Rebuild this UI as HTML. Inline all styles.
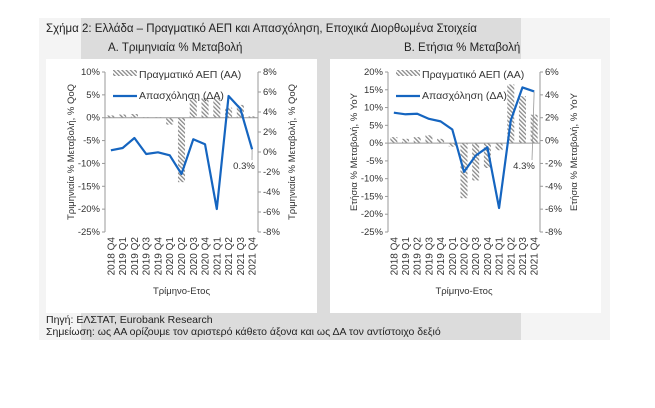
<!DOCTYPE html>
<html><head><meta charset="utf-8"><style>
body{margin:0;width:655px;height:408px;background:#fff;overflow:hidden;font-family:"Liberation Sans",sans-serif}
svg{position:absolute;left:0;top:0}
</style></head><body>
<svg id="s" width="655" height="408">
<defs><pattern id="h" width="3" height="3" patternUnits="userSpaceOnUse" patternTransform="rotate(-45)"><rect width="3" height="3" fill="#fff"/><rect width="1.3" height="3" fill="#888"/></pattern></defs>
<rect x="39" y="18" width="571" height="322" fill="#f4f4f4"/>
<rect x="81" y="18" width="440" height="322" fill="#dcdcdc"/>
<rect x="46" y="59" width="271" height="254" fill="#fff"/>
<rect x="330" y="59" width="271" height="254" fill="#fff"/>
<text x="46" y="32" font-size="11.5" fill="#222">Σχήμα 2: Ελλάδα – Πραγματικό ΑΕΠ και Απασχόληση, Εποχικά Διορθωμένα Στοιχεία</text>
<text x="108" y="51" font-size="11.5" fill="#222">Α. Τριμηνιαία % Μεταβολή</text>
<text x="404" y="51" font-size="11.5" fill="#222">Β. Ετήσια % Μεταβολή</text>
<text x="46" y="323" font-size="10.5" fill="#222">Πηγή: ΕΛΣΤΑΤ, Eurobank Research</text>
<text x="46" y="335" font-size="10.5" fill="#222">Σημείωση: ως ΑΑ ορίζουμε τον αριστερό κάθετο άξονα και ως ΔΑ τον αντίστοιχο δεξιό</text>
</svg>
<script>
const categories=["2018 Q4","2019 Q1","2019 Q2","2019 Q3","2019 Q4","2020 Q1","2020 Q2","2020 Q3","2020 Q4","2021 Q1","2021 Q2","2021 Q3","2021 Q4"];
const gdpQoQ=[0.5,0.7,0.8,0.1,0.1,-1.5,-14.1,4.3,4.3,4.3,2.2,2.8,0.3];
const empQoQ=[0.17,0.4,1.4,-0.2,-0.03,-0.33,-2.2,1.27,0.77,-5.7,5.6,4.33,0.27];
const gdpYoY=[1.7,1.2,1.7,2.2,1.2,-1,-15.5,-10.5,-7,-2,16.5,13.2,8];
const empYoY=[2.44,2.3,2.35,1.9,1.68,0.97,-2.74,-1.32,-0.59,-5.9,1.76,4.65,4.3];
const leftTicksA=[10,5,0,-5,-10,-15,-20,-25];
const rightTicksA=[8,6,4,2,0,-2,-4,-6,-8];
const leftTicksB=[20,15,10,5,0,-5,-10,-15,-20,-25];
const rightTicksB=[6,4,2,0,-2,-4,-6,-8];
const NS="http://www.w3.org/2000/svg",svg=document.getElementById('s');
function el(t,a,txt){const e=document.createElementNS(NS,t);for(const k in a)e.setAttribute(k,a[k]);if(txt!=null)e.textContent=txt;svg.appendChild(e);return e;}
function chart(o){
 const x0=o.x0,x1=o.x1,yt=72,yb=232,n=categories.length,bw=(x1-x0)/n;
 const yL=v=>yt+(o.lmax-v)/(o.lmax-o.lmin)*(yb-yt);
 const yR=v=>yt+(o.rmax-v)/(o.rmax-o.rmin)*(yb-yt);
 const xc=i=>x0+bw*(i+0.5);
 let e=el('line',{x1:x0,y1:yt,x2:x0,y2:yb,stroke:'#999'});
 
 e=el('line',{x1:x1,y1:yt,x2:x1,y2:yb,stroke:'#999'});
 
 o.lt.forEach(v=>{el('line',{x1:x0-3,x2:x0,y1:yL(v),y2:yL(v),stroke:'#999'});
  e=el('text',{x:x0-5,y:yL(v)+3,'font-size':9.5,'text-anchor':'end',fill:'#333'},v+'%');
  });
 o.rt.forEach(v=>{el('line',{x1:x1,x2:x1+3,y1:yR(v),y2:yR(v),stroke:'#999'});
  e=el('text',{x:x1+5,y:yR(v)+3,'font-size':9.5,fill:'#333'},v+'%');
  });
 o.gdp.forEach((v,i)=>{const a=yL(Math.max(v,0)),b=yL(Math.min(v,0));
  e=el('rect',{x:xc(i)-bw*0.3,y:a,width:bw*0.6,height:Math.max(b-a,0.5),fill:'url(#h)'});
  });
 e=el('line',{x1:x0,x2:x1,y1:yL(0),y2:yL(0),stroke:'#999'});
 
 e=el('polyline',{points:o.emp.map((v,i)=>xc(i)+','+yR(v)).join(' '),fill:'none',stroke:'#1565c0','stroke-width':2.2,'stroke-linejoin':'round'});
 
 categories.forEach((c,i)=>{e=el('text',{transform:`translate(${xc(i)+3.5},${yb+5}) rotate(-90)`,'font-size':10,'text-anchor':'end',fill:'#333'},c);
  });
 e=el('text',{x:(x0+x1)/2,y:294,'font-size':9.5,'text-anchor':'middle',fill:'#333'},'Τρίμηνο-Ετος');
 
 e=el('text',{transform:`translate(${x0-31},${(yt+yb)/2}) rotate(-90)`,'font-size':9.5,'text-anchor':'middle',fill:'#333'},o.lTitle);
 
 e=el('text',{transform:`translate(${x1+37},${(yt+yb)/2}) rotate(-90)`,'font-size':9.5,'text-anchor':'middle',fill:'#333'},o.lTitle);
 
 const lx=x0+8;
 e=el('rect',{x:lx,y:70,width:24,height:6,fill:'url(#h)'});
 
 e=el('text',{x:lx+26,y:78,'font-size':10.5,fill:'#333'},'Πραγματικό ΑΕΠ (ΑΑ)');
 
 e=el('line',{x1:lx,x2:lx+24,y1:96,y2:96,stroke:'#1565c0','stroke-width':2.2});
 
 e=el('text',{x:lx+26,y:99,'font-size':10.5,fill:'#333'},'Απασχόληση (ΔΑ)');
 
 const li=n-1,lv=o.emp[li];
 e=el('line',{x1:xc(li),y1:yR(lv),x2:o.cx+8,y2:o.cy-9,stroke:'#999','stroke-width':0.8});
 
 e=el('text',{x:o.cx,y:o.cy,'font-size':9.5,'text-anchor':'middle',fill:'#333'},lv.toFixed(1)+'%');
 
}
chart({p:'left',x0:105,x1:258,lmax:10,lmin:-25,rmax:8,rmin:-8,lt:leftTicksA,rt:rightTicksA,gdp:gdpQoQ,emp:empQoQ,lTitle:'Τριμηνιαία % Μεταβολή, % QoQ',cx:244,cy:169});
chart({p:'right',x0:388,x1:540,lmax:20,lmin:-25,rmax:6,rmin:-8,lt:leftTicksB,rt:rightTicksB,gdp:gdpYoY,emp:empYoY,lTitle:'Ετήσια % Μεταβολή, % YoY',cx:524,cy:169});
</script>
</body></html>
